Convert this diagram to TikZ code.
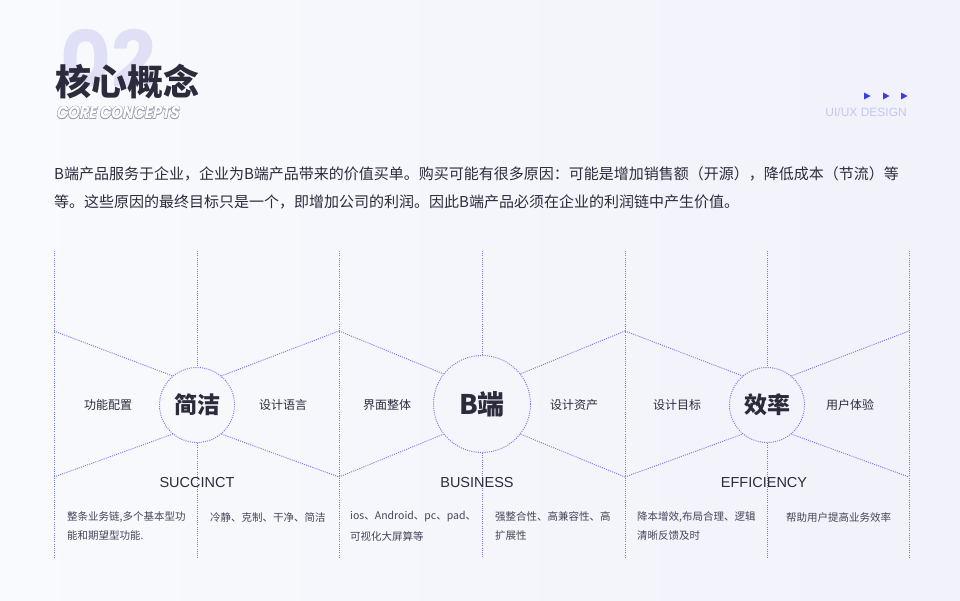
\documentclass[tikz,border=0pt]{standalone}
\usepackage{fontspec}
\usepackage{graphicx}
\setmainfont{Noto Sans CJK SC}
\newfontfamily\popp{Poppins}
\newfontfamily\poppsl{Poppins}[FakeSlant=0.22]
\newfontfamily\lib{Liberation Sans}
\definecolor{bgl}{HTML}{F9FAFD}
\definecolor{bgr}{HTML}{F1F2FA}
\definecolor{lineblue}{HTML}{7676F0}
\definecolor{txt}{HTML}{2B2B3C}
\definecolor{desc}{HTML}{45455A}
\definecolor{numc}{HTML}{DFE0F5}
\definecolor{olc}{HTML}{9C9CB4}
\definecolor{uic}{HTML}{C5C6EE}
\definecolor{tri}{HTML}{3C3CE6}
\newcommand\coretxt{CORE CONCEPTS}
\newcommand\outlined{{\color{olc}%
\rlap{\hspace{-0.6pt}\coretxt}\rlap{\hspace{0.6pt}\coretxt}%
\rlap{\raisebox{0.6pt}{\coretxt}}\rlap{\raisebox{-0.6pt}{\coretxt}}%
\rlap{\hspace{-0.45pt}\raisebox{0.45pt}{\coretxt}}\rlap{\hspace{0.45pt}\raisebox{-0.45pt}{\coretxt}}%
\rlap{\hspace{0.45pt}\raisebox{0.45pt}{\coretxt}}\rlap{\hspace{-0.45pt}\raisebox{-0.45pt}{\coretxt}}}%
{\color{white}\coretxt}}
\tikzset{
  dl/.style={draw=lineblue, line width=0.95pt, dash pattern=on 1pt off 1.2pt},
  hub/.style={circle, dl, inner sep=0pt, text=txt, font=\bfseries\fontsize{23}{23}\selectfont},
  side/.style={font=\fontsize{12}{12}\selectfont, text=txt},
  eng/.style={font=\lib\fontsize{14.5}{14.5}\selectfont, text=txt},
  desc/.style={font=\fontsize{10.5}{10.5}\selectfont, text=desc, anchor=west, inner sep=0pt},
  para/.style={font=\fontsize{15}{15}\selectfont, text=txt, anchor=west, inner sep=0pt},
  tribox/.style={fill=tri, draw=none}
}
\begin{document}
\begin{tikzpicture}[x=1pt,y=-1pt]
\useasboundingbox (0,0) rectangle (960,600);
\shade[left color=bgl, right color=bgr] (0,0) rectangle (960,600);
% big number and title
\node[anchor=base west, inner sep=0pt, text=numc, font=\popp\bfseries\fontsize{78}{78}\selectfont] (num) at (60,87) {02};
\node[anchor=west, inner sep=0pt, text=txt, font=\bfseries\fontsize{36}{36}\selectfont] (title) at (55,82) {核心概念};
\node[anchor=west, inner sep=0pt, font=\poppsl\bfseries\fontsize{17}{17}\selectfont] (core) at (56,113) {\scalebox{0.86}[1]{\outlined}};
% top right
\node[anchor=east, inner sep=0pt, text=uic, font=\lib\fontsize{12}{12}\selectfont] (uiux) at (907,112) {UI/UX DESIGN};
\foreach \i/\x in {1/867,2/886,3/904}{
  \fill[tribox] (\x-3,92.5) -- (\x+3.5,96) -- (\x-3,99.5) -- cycle;
}
% paragraph
\node[para] (p1) at (54,174) {B端产品服务于企业，企业为B端产品带来的价值买单。购买可能有很多原因：可能是增加销售额（开源），降低成本（节流）等};
\node[para] (p2) at (54,202) {等。这些原因的最终目标只是一个，即增加公司的利润。因此B端产品必须在企业的利润链中产生价值。};
% hubs
\node[hub, minimum size=75pt] (c1) at (197,405) {简洁};
\node[hub, minimum size=97pt, font=\bfseries\fontsize{27}{27}\selectfont] (c2) at (482,404) {B端};
\node[hub, minimum size=75pt] (c3) at (767,405) {效率};
% coordinates
\foreach \n/\x in {1/54,2/339,3/625,4/909}{
  \coordinate (t\n) at (\x,251);
  \coordinate (b\n) at (\x,558);
  \coordinate (u\n) at (\x,331);
  \coordinate (d\n) at (\x,477);
}
\foreach \n/\x in {1/197,2/482,3/767}{
  \coordinate (mt\n) at (\x,251);
  \coordinate (mb\n) at (\x,558);
}
% verticals
\foreach \n in {1,2,3,4}{ \draw[dl] (t\n) -- (b\n); }
\foreach \n in {1,2,3}{
  \draw[dl] (mt\n) -- (c\n.north);
  \draw[dl] (c\n.south) -- (mb\n);
}
% diagonals
\draw[dl] (u1) -- (c1.130); \draw[dl] (c1.50) -- (u2);
\draw[dl] (d1) -- (c1.230); \draw[dl] (c1.310) -- (d2);
\draw[dl] (u2) -- (c2.142); \draw[dl] (c2.38) -- (u3);
\draw[dl] (d2) -- (c2.218); \draw[dl] (c2.322) -- (d3);
\draw[dl] (u3) -- (c3.130); \draw[dl] (c3.50) -- (u4);
\draw[dl] (d3) -- (c3.230); \draw[dl] (c3.310) -- (d4);
% side labels
\node[side] (s1) at (108,405) {功能配置};
\node[side] (s2) at (283,405) {设计语言};
\node[side] (s3) at (387,405) {界面整体};
\node[side] (s4) at (574,405) {设计资产};
\node[side] (s5) at (677,405) {设计目标};
\node[side] (s6) at (850,405) {用户体验};
% english
\node[eng] (e1) at (197,482) {SUCCINCT};
\node[eng] (e2) at (477,482) {BUSINESS};
\node[eng] (e3) at (764,482) {EFFICIENCY};
% descriptions
\node[desc] (d11) at (67,517) {整条业务链,多个基本型功};
\node[desc] (d12) at (67,536) {能和期望型功能.};
\node[desc] (d21) at (210,517) {冷静、克制、干净、简洁};
\node[desc] (d31) at (350,517) {ios、Android、pc、pad、};
\node[desc] (d32) at (350,536) {可视化大屏算等};
\node[desc] (d41) at (495,517) {强整合性、高兼容性、高};
\node[desc] (d42) at (495,536) {扩展性};
\node[desc] (d51) at (637,517) {降本增效,布局合理、逻辑};
\node[desc] (d52) at (637,536) {清晰反馈及时};
\node[desc] (d61) at (786,517) {帮助用户提高业务效率};
\end{tikzpicture}
\end{document}
